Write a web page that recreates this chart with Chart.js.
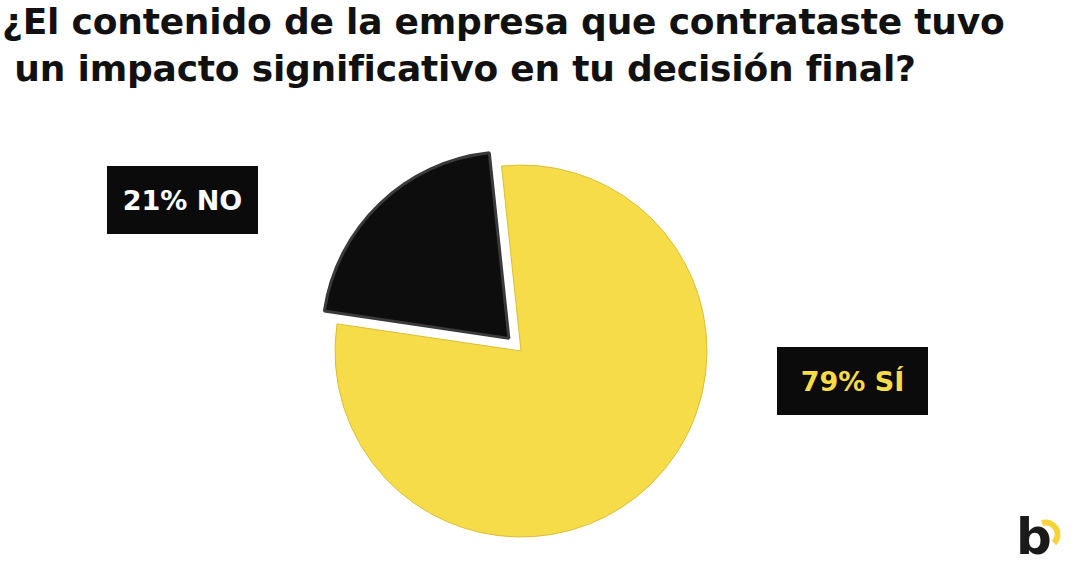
<!DOCTYPE html>
<html><head><meta charset="utf-8">
<script src="https://cdn.jsdelivr.net/npm/chart.js"></script>
<style>
body{margin:0;width:1074px;height:582px;background:#fff;position:relative;overflow:hidden;font-family:"DejaVu Sans",sans-serif}
#title{position:absolute;left:2px;top:-2px;font-size:36px;font-weight:bold;line-height:47px;color:#111;letter-spacing:-0.2px}
#wrap{position:absolute;left:305px;top:135px;width:432px;height:432px}
.lab{position:absolute;width:151px;height:68px;background:#0b0b0b;font-weight:bold;font-size:27px;display:flex;align-items:center;justify-content:center}
#logo{position:absolute;left:1016px;top:512px;font-size:50px;font-weight:bold;color:#1a1a1a;line-height:50px}
</style></head><body>
<div id="title">¿El contenido de la empresa que contrataste tuvo<br>&nbsp;un impacto significativo en tu decisión final?</div>
<div id="wrap"><canvas id="c"></canvas></div>
<div class="lab" style="left:107px;top:166px;color:#fff">21% NO</div>
<div class="lab" style="left:777px;top:347px;color:#f7dc48">79% SÍ</div>
<div id="logo">b</div>
<svg style="position:absolute;left:1030px;top:515px" width="40" height="40"><path d="M12 8 A12 12 0 0 1 24 28" stroke="#f5d43a" stroke-width="6" fill="none"/></svg>
<script>
const categories=["SÍ","NO"];
const values=[79,21];
const colors=["#f6dc48","#0d0d0d"];
new Chart(document.getElementById('c'),{type:'pie',
data:{labels:categories,datasets:[{data:values,backgroundColor:colors,borderColor:["#d8bf38","#3a3a3a"],borderWidth:[1,3],offset:[0,70]}]},
options:{responsive:true,maintainAspectRatio:false,animation:false,layout:{padding:0},radius:186,rotation:-6,
plugins:{legend:{display:false},tooltip:{enabled:false}}}});
</script></body></html>
